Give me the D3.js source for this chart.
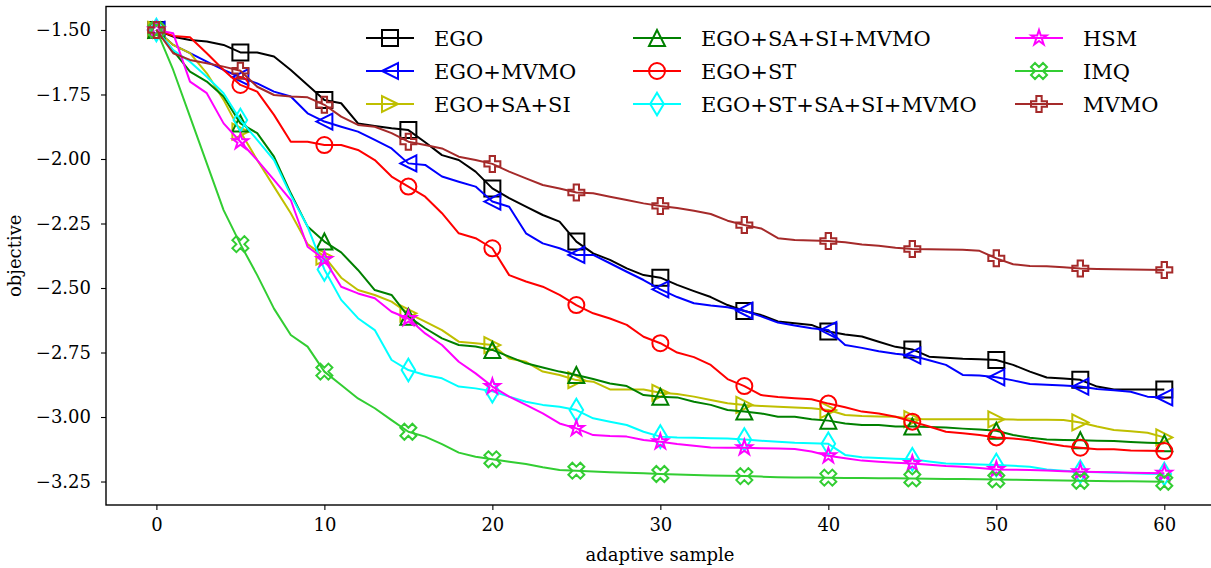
<!DOCTYPE html>
<html>
<head>
<meta charset="utf-8">
<script src="https://cdn.jsdelivr.net/npm/d3@7"></script>
<style>
  body { margin: 0; background: #fff; }
  svg { display: block; font-family: "DejaVu Serif", "Liberation Serif", serif; }
</style>
</head>
<body>
<svg id="chart" width="1211" height="568"></svg>
<script>
// samples 0..60, one value per adaptive sample
var samples = d3.range(0, 61);

var ego = [-1.500,-1.526,-1.539,-1.545,-1.558,-1.587,-1.587,-1.603,-1.655,-1.713,
  -1.771,-1.784,-1.862,-1.872,-1.881,-1.888,-1.935,-1.985,-2.004,-2.049,
  -2.114,-2.152,-2.185,-2.217,-2.243,-2.320,-2.366,-2.391,-2.424,-2.450,
  -2.460,-2.488,-2.512,-2.535,-2.566,-2.589,-2.605,-2.630,-2.637,-2.643,
  -2.669,-2.680,-2.688,-2.708,-2.728,-2.738,-2.766,-2.770,-2.774,-2.776,
  -2.779,-2.798,-2.824,-2.847,-2.851,-2.856,-2.882,-2.893,-2.893,-2.893,-2.893];

var egoMvmo = [-1.500,-1.558,-1.590,-1.623,-1.655,-1.683,-1.707,-1.739,-1.758,-1.823,
  -1.855,-1.875,-1.894,-1.926,-1.959,-2.017,-2.023,-2.068,-2.088,-2.107,
  -2.165,-2.185,-2.288,-2.327,-2.346,-2.372,-2.372,-2.404,-2.437,-2.469,
  -2.505,-2.535,-2.559,-2.568,-2.575,-2.588,-2.610,-2.634,-2.645,-2.656,
  -2.663,-2.721,-2.732,-2.745,-2.755,-2.762,-2.780,-2.798,-2.837,-2.839,
  -2.846,-2.858,-2.872,-2.875,-2.878,-2.882,-2.891,-2.896,-2.902,-2.921,-2.924];

var egoSaSi = [-1.500,-1.558,-1.590,-1.668,-1.771,-1.894,-2.004,-2.107,-2.210,-2.330,
  -2.378,-2.460,-2.508,-2.527,-2.553,-2.598,-2.630,-2.663,-2.708,-2.714,
  -2.721,-2.773,-2.786,-2.824,-2.837,-2.857,-2.863,-2.893,-2.893,-2.893,
  -2.906,-2.911,-2.921,-2.934,-2.947,-2.953,-2.957,-2.960,-2.963,-2.966,
  -2.973,-2.992,-2.996,-2.998,-2.999,-3.008,-3.009,-3.009,-3.009,-3.009,
  -3.009,-3.010,-3.011,-3.011,-3.012,-3.021,-3.037,-3.050,-3.055,-3.061,-3.079];

var egoSaSiMvmo = [-1.500,-1.580,-1.661,-1.700,-1.758,-1.862,-1.900,-1.991,-2.133,-2.262,
  -2.320,-2.362,-2.430,-2.508,-2.527,-2.611,-2.656,-2.695,-2.721,-2.727,
  -2.740,-2.766,-2.792,-2.808,-2.824,-2.837,-2.853,-2.870,-2.880,-2.915,
  -2.921,-2.924,-2.941,-2.953,-2.973,-2.979,-2.986,-2.999,-2.999,-3.009,
  -3.014,-3.025,-3.031,-3.031,-3.037,-3.037,-3.039,-3.041,-3.045,-3.048,
  -3.053,-3.070,-3.080,-3.087,-3.089,-3.090,-3.092,-3.093,-3.097,-3.100,-3.102];

var egoSt = [-1.500,-1.523,-1.528,-1.590,-1.655,-1.713,-1.739,-1.829,-1.933,-1.933,
  -1.946,-1.946,-1.965,-2.004,-2.068,-2.107,-2.146,-2.210,-2.288,-2.307,
  -2.346,-2.450,-2.475,-2.495,-2.527,-2.566,-2.598,-2.618,-2.643,-2.689,
  -2.714,-2.750,-2.768,-2.798,-2.853,-2.880,-2.915,-2.922,-2.927,-2.931,
  -2.948,-2.962,-2.979,-2.986,-2.999,-3.018,-3.037,-3.057,-3.063,-3.070,
  -3.079,-3.083,-3.090,-3.102,-3.112,-3.119,-3.125,-3.125,-3.130,-3.131,-3.132];

var egoStSaSiMvmo = [-1.500,-1.578,-1.623,-1.681,-1.745,-1.849,-1.926,-2.004,-2.140,-2.262,
  -2.428,-2.546,-2.617,-2.663,-2.779,-2.818,-2.837,-2.850,-2.882,-2.889,
  -2.900,-2.921,-2.941,-2.953,-2.960,-2.973,-3.005,-3.018,-3.031,-3.057,
  -3.076,-3.079,-3.080,-3.082,-3.083,-3.087,-3.092,-3.096,-3.100,-3.102,
  -3.104,-3.147,-3.156,-3.159,-3.162,-3.164,-3.172,-3.180,-3.182,-3.184,
  -3.186,-3.189,-3.193,-3.203,-3.208,-3.212,-3.214,-3.216,-3.218,-3.220,-3.221];

var hsm = [-1.500,-1.513,-1.700,-1.745,-1.862,-1.933,-2.004,-2.081,-2.159,-2.340,
  -2.389,-2.495,-2.521,-2.540,-2.592,-2.618,-2.676,-2.721,-2.786,-2.831,
  -2.882,-2.921,-2.953,-2.986,-3.025,-3.044,-3.070,-3.074,-3.076,-3.089,
  -3.096,-3.105,-3.111,-3.118,-3.119,-3.119,-3.121,-3.122,-3.124,-3.134,
  -3.150,-3.160,-3.169,-3.173,-3.177,-3.180,-3.185,-3.190,-3.193,-3.198,
  -3.203,-3.204,-3.205,-3.207,-3.210,-3.212,-3.213,-3.214,-3.216,-3.217,-3.218];

var imq = [-1.500,-1.655,-1.836,-2.017,-2.198,-2.330,-2.450,-2.580,-2.682,-2.727,
  -2.824,-2.876,-2.928,-2.966,-3.012,-3.057,-3.076,-3.105,-3.138,-3.154,
  -3.164,-3.173,-3.182,-3.195,-3.205,-3.208,-3.211,-3.214,-3.216,-3.218,
  -3.221,-3.223,-3.225,-3.227,-3.228,-3.229,-3.231,-3.233,-3.234,-3.234,
  -3.235,-3.236,-3.236,-3.237,-3.237,-3.238,-3.239,-3.240,-3.240,-3.241,
  -3.242,-3.243,-3.244,-3.245,-3.246,-3.247,-3.248,-3.249,-3.249,-3.250,-3.251];

var mvmo = [-1.500,-1.590,-1.616,-1.629,-1.642,-1.658,-1.720,-1.752,-1.758,-1.761,
  -1.790,-1.836,-1.868,-1.875,-1.900,-1.933,-1.946,-1.959,-1.991,-2.004,
  -2.019,-2.049,-2.075,-2.101,-2.114,-2.130,-2.133,-2.146,-2.159,-2.172,
  -2.182,-2.190,-2.201,-2.213,-2.239,-2.256,-2.269,-2.307,-2.314,-2.316,
  -2.318,-2.323,-2.331,-2.336,-2.344,-2.349,-2.350,-2.351,-2.352,-2.356,
  -2.385,-2.408,-2.415,-2.416,-2.420,-2.424,-2.426,-2.427,-2.428,-2.429,-2.430];

var names = ["EGO", "EGO+MVMO", "EGO+SA+SI", "EGO+SA+SI+MVMO", "EGO+ST",
  "EGO+ST+SA+SI+MVMO", "HSM", "IMQ", "MVMO"];
var values = [ego, egoMvmo, egoSaSi, egoSaSiMvmo, egoSt, egoStSaSiMvmo, hsm, imq, mvmo];
var colors = ["#000000", "#0000ff", "#bfbf00", "#008000", "#ff0000",
  "#00ffff", "#ff00ff", "#32cd32", "#a52a2a"];
var markers = ["square", "triLeft", "triRight", "triUp", "circle",
  "thinDiamond", "star", "xFilled", "plusFilled"];

var xTicks = [0, 10, 20, 30, 40, 50, 60];
var yTicks = [-1.50, -1.75, -2.00, -2.25, -2.50, -2.75, -3.00, -3.25];

(function() {
var svg = d3.select("#chart");
var pLeft = 106, pRight = 1214.7, pTop = 6.5, pBottom = 505;

var x = d3.scaleLinear().domain([-3, 63]).range([pLeft, pRight]);
var y = d3.scaleLinear().domain([-3.341, -1.409]).range([pBottom, pTop]);

// marker paths, size = marker size in px (matplotlib style)
var ms = 16;
function markerPath(kind, s) {
  var h = s / 2, pts;
  if (kind == "circle") {
    return "M" + h + ",0A" + h + "," + h + " 0 1,1 " + (-h) + ",0A" + h + "," + h + " 0 1,1 " + h + ",0Z";
  }
  if (kind == "square") pts = [[-h,-h],[h,-h],[h,h],[-h,h]];
  if (kind == "triUp") pts = [[0,-h],[-h,h],[h,h]];
  if (kind == "triLeft") pts = [[-h,0],[h,-h],[h,h]];
  if (kind == "triRight") pts = [[h,0],[-h,-h],[-h,h]];
  if (kind == "thinDiamond") {
    var r = s * Math.SQRT1_2;
    pts = [[0,-r],[0.6*r,0],[0,r],[-0.6*r,0]];
  }
  if (kind == "star") {
    pts = [];
    for (var k = 0; k < 10; k++) {
      var rad = (k % 2 == 0) ? h : h * 0.381966;
      var a = -Math.PI / 2 + k * Math.PI / 5;
      pts.push([rad * Math.cos(a), rad * Math.sin(a)]);
    }
  }
  if (kind == "xFilled") {
    pts = [[-1,-2],[0,-1],[1,-2],[2,-1],[1,0],[2,1],[1,2],[0,1],[-1,2],[-2,1],[-1,0],[-2,-1]]
      .map(function(p) { return [p[0] * s / 4, p[1] * s / 4]; });
  }
  if (kind == "plusFilled") {
    pts = [[-1,-3],[1,-3],[1,-1],[3,-1],[3,1],[1,1],[1,3],[-1,3],[-1,1],[-3,1],[-3,-1],[-1,-1]]
      .map(function(p) { return [p[0] * s / 6, p[1] * s / 6]; });
  }
  return "M" + pts.map(function(p) { return p[0].toFixed(2) + "," + p[1].toFixed(2); }).join("L") + "Z";
}

svg.append("defs").append("clipPath").attr("id", "plotclip")
  .append("rect").attr("x", pLeft).attr("y", pTop)
  .attr("width", pRight - pLeft).attr("height", pBottom - pTop);

// axes
var xAxis = d3.axisBottom(x).tickValues(xTicks).tickSize(5).tickPadding(8).tickFormat(d3.format("d"));
var yAxis = d3.axisLeft(y).tickValues(yTicks).tickSize(5).tickPadding(10).tickFormat(d3.format(".2f"));

var gx = svg.append("g").attr("transform", "translate(0," + pBottom + ")").call(xAxis);
var gy = svg.append("g").attr("transform", "translate(" + pLeft + ",0)").call(yAxis);
[gx, gy].forEach(function(g) {
  g.select(".domain").remove();
  g.selectAll(".tick line").attr("stroke", "#000").attr("stroke-width", 1.1);
  g.selectAll(".tick text").attr("fill", "#000").style("font-size", "18px")
    .style("font-family", "'DejaVu Serif', serif");
});

// frame
svg.append("rect").attr("x", pLeft).attr("y", pTop)
  .attr("width", pRight - pLeft).attr("height", pBottom - pTop)
  .attr("fill", "none").attr("stroke", "#000").attr("stroke-width", 1.4);

svg.append("text").attr("x", 660).attr("y", 561)
  .attr("text-anchor", "middle").style("font-size", "18px").text("adaptive sample");
svg.append("text").attr("transform", "translate(21," + ((pTop + pBottom) / 2) + ") rotate(-90)")
  .attr("text-anchor", "middle").style("font-size", "18px").text("objective");

// series
var line = d3.line().x(function(d) { return x(d[0]); }).y(function(d) { return y(d[1]); });
var plot = svg.append("g").attr("clip-path", "url(#plotclip)");

values.forEach(function(vals, s) {
  var pts = samples.map(function(i) { return [i, vals[i]]; });
  var g = plot.append("g");
  g.append("path").attr("d", line(pts)).attr("fill", "none")
    .attr("stroke", colors[s]).attr("stroke-width", 2).attr("stroke-linejoin", "round");
  g.selectAll("path.mk").data(pts.filter(function(d) { return d[0] % 5 == 0; }))
    .enter().append("path").attr("class", "mk")
    .attr("d", markerPath(markers[s], ms))
    .attr("transform", function(d) { return "translate(" + x(d[0]) + "," + y(d[1]) + ")"; })
    .attr("fill", "none").attr("stroke", colors[s]).attr("stroke-width", 2)
    .attr("stroke-linejoin", "miter");
});

// legend, 3 columns x 3 rows
var legX = [366, 633, 1015], legY = [38, 71, 104];
var leg = svg.append("g");
names.forEach(function(n, s) {
  var cx = legX[Math.floor(s / 3)], cy = legY[s % 3];
  var g = leg.append("g").attr("transform", "translate(" + cx + "," + cy + ")");
  g.append("line").attr("x1", 0).attr("x2", 48).attr("stroke", colors[s]).attr("stroke-width", 2);
  g.append("path").attr("d", markerPath(markers[s], ms)).attr("transform", "translate(24,0)")
    .attr("fill", "none").attr("stroke", colors[s]).attr("stroke-width", 2);
  g.append("text").attr("x", 68).attr("y", 7.5).style("font-size", "21px").text(n);
});
})();
</script>
</body>
</html>
